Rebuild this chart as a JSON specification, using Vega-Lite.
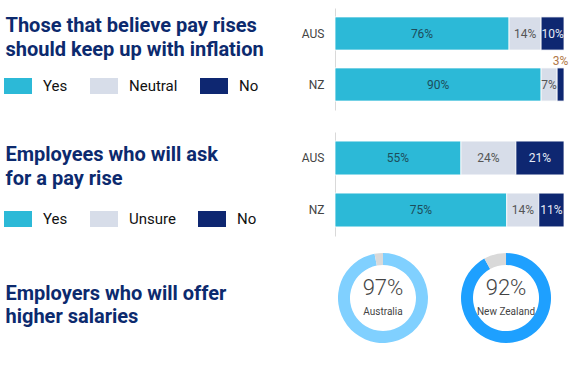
{
  "$schema": "https://vega.github.io/schema/vega-lite/v6.json",
  "background": "white",
  "padding": {"left": 4, "top": 8, "right": 8, "bottom": 23},
  "bounds": "flush",
  "spacing": 22,
  "config": {
    "view": {"stroke": null},
    "font": "Roboto",
    "axis": {
      "ticks": false,
      "grid": false,
      "domainColor": "#d9d9d9",
      "labelFont": "Roboto",
      "labelFontSize": 12,
      "labelColor": "#444444",
      "labelPadding": 11,
      "titleFont": "Roboto",
      "titleFontSize": 20,
      "titleFontWeight": "bold",
      "titleColor": "#0c2a6e",
      "titleAngle": 0,
      "titleAlign": "left",
      "titleBaseline": "alphabetic",
      "titleLineHeight": 23.5
    },
    "legend": {
      "orient": "none",
      "direction": "horizontal",
      "title": null,
      "padding": 0,
      "symbolType": "M-1,-0.5714L1,-0.5714L1,0.5714L-1,0.5714Z",
      "symbolSize": 784,
      "symbolStrokeWidth": 0,
      "symbolOpacity": 1,
      "labelFont": "Roboto",
      "labelFontSize": 15,
      "labelColor": "#111111",
      "labelOffset": 11,
      "columnPadding": 22
    }
  },
  "resolve": {"scale": {"color": "independent", "x": "independent", "y": "independent"}},
  "vconcat": [
    {
      "width": 229,
      "height": 102,
      "data": {"values": [
        {"country": "AUS", "response": "Yes", "rank": 1, "value": 76},
        {"country": "AUS", "response": "Neutral", "rank": 2, "value": 14},
        {"country": "AUS", "response": "No", "rank": 3, "value": 10},
        {"country": "NZ", "response": "Yes", "rank": 1, "value": 90},
        {"country": "NZ", "response": "Neutral", "rank": 2, "value": 7},
        {"country": "NZ", "response": "No", "rank": 3, "value": 3}
      ]},
      "transform": [
        {"stack": "value", "groupby": ["country"], "sort": [{"field": "rank", "order": "ascending"}], "as": ["v0", "v1"]},
        {"calculate": "(datum.v0 + datum.v1) / 2", "as": "mid"},
        {"calculate": "datum.value + '%'", "as": "label"}
      ],
      "encoding": {
        "y": {
          "field": "country", "type": "nominal", "sort": ["AUS", "NZ"],
          "scale": {"paddingInner": 0.35, "paddingOuter": 0.175},
          "axis": {
            "title": ["Those that believe pay rises", "should keep up with inflation"],
            "titleX": -330, "titleY": 23.5
          }
        }
      },
      "layer": [
        {
          "mark": {"type": "bar", "stroke": "white", "strokeWidth": 0.8},
          "encoding": {
            "x": {"field": "v0", "type": "quantitative", "scale": {"domain": [0, 100], "nice": false}, "axis": null},
            "x2": {"field": "v1"},
            "color": {
              "field": "response", "type": "nominal", "sort": ["Yes", "Neutral", "No"],
              "scale": {"domain": ["Yes", "Neutral", "No"], "range": ["#2cb9d7", "#d7dde9", "#0e2771"]},
              "legend": {"legendX": -331, "legendY": 64}
            }
          }
        },
        {
          "transform": [{"filter": "datum.value >= 5"}],
          "mark": {"type": "text", "fontSize": 12, "font": "Roboto"},
          "encoding": {
            "x": {"field": "mid", "type": "quantitative"},
            "text": {"field": "label"},
            "color": {
              "condition": [
                {"test": "datum.response === 'No'", "value": "#e6ebf5"},
                {"test": "datum.response === 'Yes'", "value": "#1d4d5b"}
              ],
              "value": "#555555"
            }
          }
        },
        {
          "transform": [{"filter": "datum.value < 5"}],
          "mark": {"type": "text", "fontSize": 12, "font": "Roboto", "dy": -24, "color": "#b07848"},
          "encoding": {
            "x": {"field": "mid", "type": "quantitative"},
            "text": {"field": "label"}
          }
        }
      ]
    },
    {
      "width": 229,
      "height": 104,
      "data": {"values": [
        {"country": "AUS", "response": "Yes", "rank": 1, "value": 55},
        {"country": "AUS", "response": "Unsure", "rank": 2, "value": 24},
        {"country": "AUS", "response": "No", "rank": 3, "value": 21},
        {"country": "NZ", "response": "Yes", "rank": 1, "value": 75},
        {"country": "NZ", "response": "Unsure", "rank": 2, "value": 14},
        {"country": "NZ", "response": "No", "rank": 3, "value": 11}
      ]},
      "transform": [
        {"stack": "value", "groupby": ["country"], "sort": [{"field": "rank", "order": "ascending"}], "as": ["v0", "v1"]},
        {"calculate": "(datum.v0 + datum.v1) / 2", "as": "mid"},
        {"calculate": "datum.value + '%'", "as": "label"}
      ],
      "encoding": {
        "y": {
          "field": "country", "type": "nominal", "sort": ["AUS", "NZ"],
          "scale": {"paddingInner": 0.35, "paddingOuter": 0.175},
          "axis": {
            "title": ["Employees who will ask", "for a pay rise"],
            "titleX": -330, "titleY": 28.5
          }
        }
      },
      "layer": [
        {
          "mark": {"type": "bar", "stroke": "white", "strokeWidth": 0.8},
          "encoding": {
            "x": {"field": "v0", "type": "quantitative", "scale": {"domain": [0, 100], "nice": false}, "axis": null},
            "x2": {"field": "v1"},
            "color": {
              "field": "response", "type": "nominal", "sort": ["Yes", "Unsure", "No"],
              "scale": {"domain": ["Yes", "Unsure", "No"], "range": ["#2cb9d7", "#d7dde9", "#0e2771"]},
              "legend": {"legendX": -331, "legendY": 73}
            }
          }
        },
        {
          "mark": {"type": "text", "fontSize": 12, "font": "Roboto"},
          "encoding": {
            "x": {"field": "mid", "type": "quantitative"},
            "text": {"field": "label"},
            "color": {
              "condition": [
                {"test": "datum.response === 'No'", "value": "#e6ebf5"},
                {"test": "datum.response === 'Yes'", "value": "#1d4d5b"}
              ],
              "value": "#555555"
            }
          }
        }
      ]
    },
    {
      "width": 219,
      "height": 80,
      "data": {"values": [
        {"country": "Australia", "answer": "Yes", "value": 97},
        {"country": "Australia", "answer": "No", "value": 3},
        {"country": "New Zealand", "answer": "Yes", "value": 92},
        {"country": "New Zealand", "answer": "No", "value": 8}
      ]},
      "transform": [
        {"stack": "value", "groupby": ["country"], "sort": [{"field": "answer", "order": "descending"}], "as": ["v0", "v1"]},
        {"calculate": "datum.value + '%'", "as": "label"}
      ],
      "encoding": {
        "x": {
          "field": "country", "type": "nominal", "sort": ["Australia", "New Zealand"],
          "scale": {"type": "point", "padding": 0.39},
          "axis": {
            "labels": false, "domain": false,
            "title": ["Employers who will offer", "higher salaries"],
            "titleX": -330, "titleY": -39
          }
        }
      },
      "layer": [
        {
          "mark": {"type": "arc", "outerRadius": 45, "innerRadius": 33},
          "encoding": {
            "theta": {"field": "v0", "type": "quantitative", "scale": {"domain": [0, 100]}},
            "theta2": {"field": "v1"},
            "color": {
              "condition": {"test": "datum.answer === 'No'", "value": "#d9d9d9"},
              "field": "country", "type": "nominal",
              "scale": {"domain": ["Australia", "New Zealand"], "range": ["#80d0ff", "#1ea0ff"]},
              "legend": null
            }
          }
        },
        {
          "transform": [{"filter": "datum.answer === 'Yes'"}],
          "mark": {"type": "text", "fontSize": 22, "fontWeight": 300, "font": "Roboto", "baseline": "alphabetic", "dy": -3, "color": "#444444"},
          "encoding": {"text": {"field": "label"}}
        },
        {
          "transform": [{"filter": "datum.answer === 'Yes'"}],
          "mark": {"type": "text", "fontSize": 10, "font": "Roboto", "baseline": "alphabetic", "dy": 17, "color": "#444444"},
          "encoding": {"text": {"field": "country"}}
        }
      ]
    }
  ]
}
